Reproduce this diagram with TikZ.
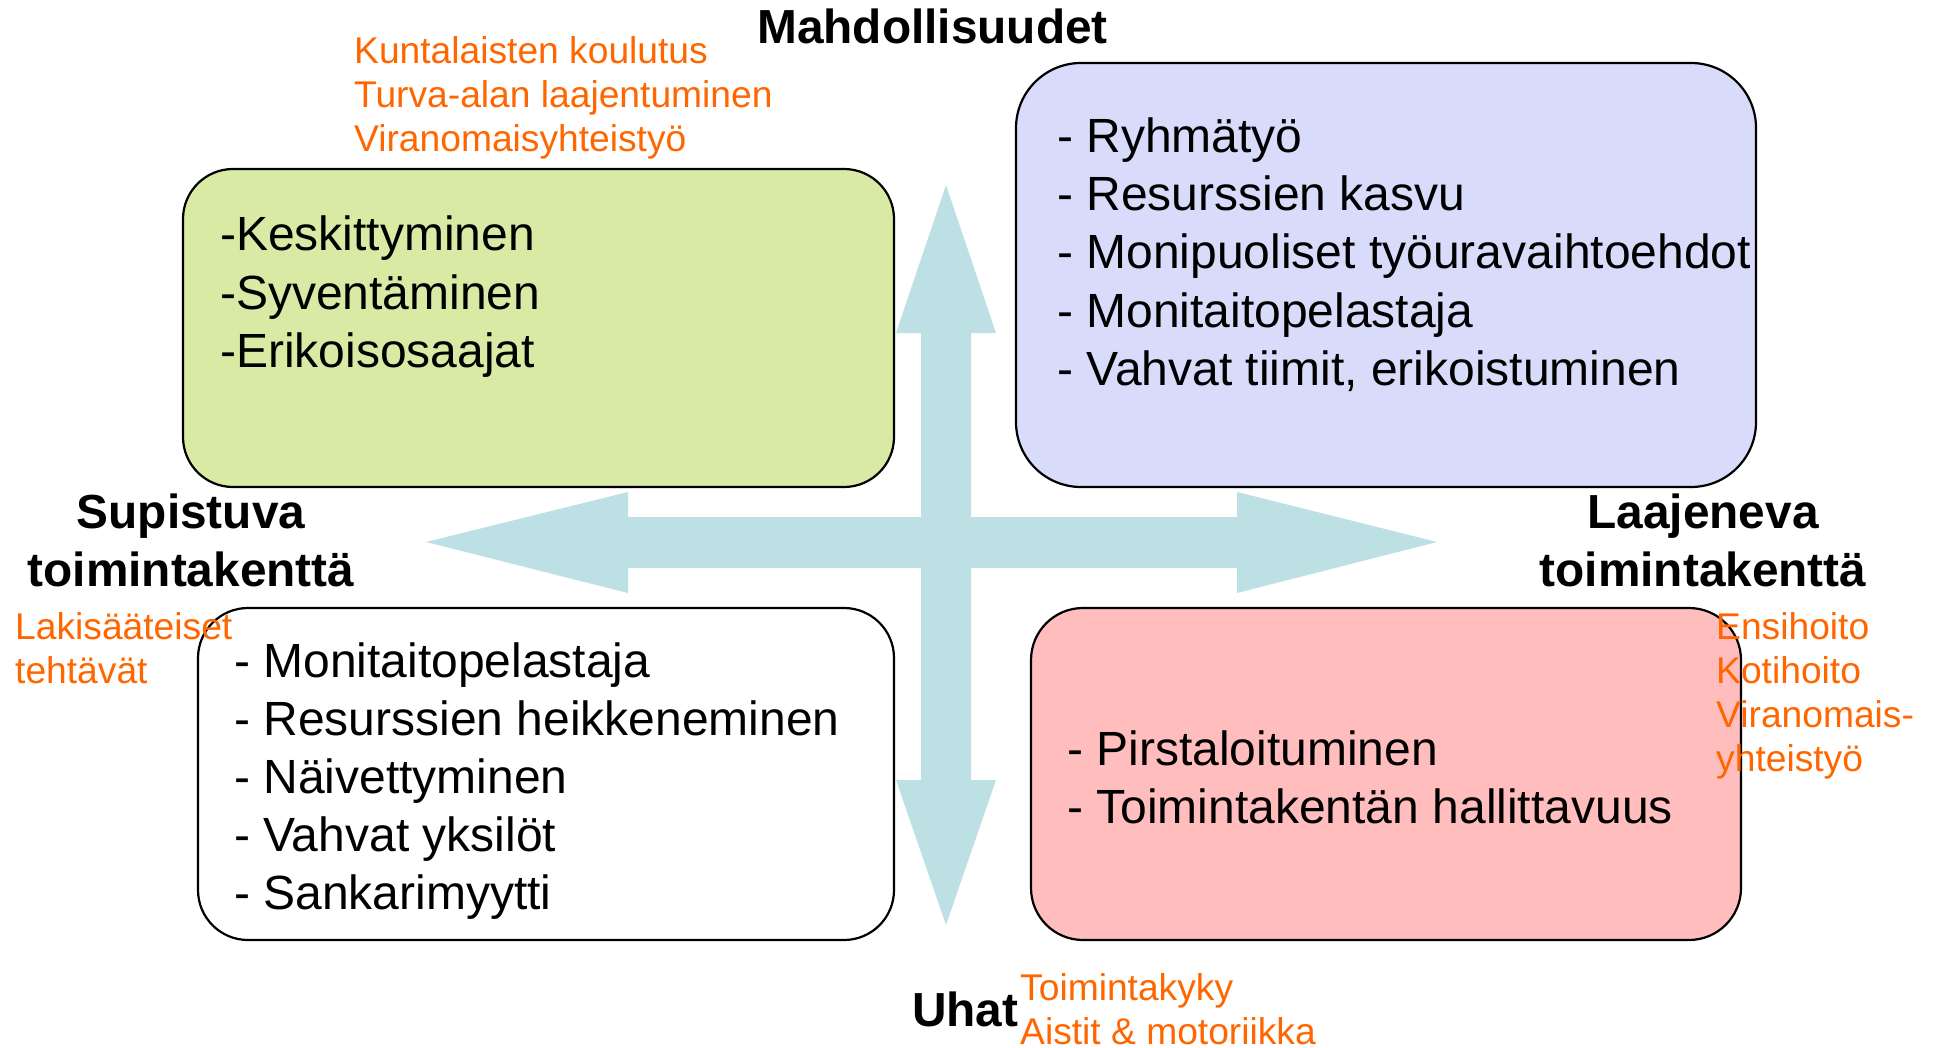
\documentclass[tikz,border=0pt]{standalone}
\usepackage{fontspec}
\setmainfont{Liberation Sans}
\definecolor{arrowc}{HTML}{BCE0E4}
\definecolor{greenc}{HTML}{D9EAA5}
\definecolor{bluec}{HTML}{D9DBFB}
\definecolor{pinkc}{HTML}{FFBDBD}
\definecolor{orangec}{HTML}{FF6600}
\tikzset{
  quad/.style={draw=black, line width=2.2pt, inner sep=0pt},
  item/.style={anchor=base west, inner sep=0pt, font=\fontsize{48}{58}\selectfont},
  head/.style={anchor=base west, inner sep=0pt, font=\fontsize{47.8}{58}\selectfont\bfseries},
  headc/.style={anchor=base, inner sep=0pt, font=\fontsize{47.8}{58}\selectfont\bfseries},
  note/.style={anchor=base west, inner sep=0pt, text=orangec, font=\fontsize{37.2}{44}\selectfont},
}
\begin{document}
\begin{tikzpicture}[x=1pt,y=-1pt]
\useasboundingbox (0,0) rectangle (1934,1048);
% four-way arrow
\coordinate (c) at (946,542);
\fill[arrowc] (946,185) -- (996,333) -- (971,333) -- (971,517) -- (1237,517) -- (1237,492)
  -- (1437,542) -- (1237,593) -- (1237,568) -- (971,568) -- (971,780) -- (996,780)
  -- (946,925) -- (896,780) -- (921,780) -- (921,568) -- (628,568) -- (628,593)
  -- (426,542) -- (628,492) -- (628,517) -- (921,517) -- (921,333) -- (896,333) -- cycle;
% boxes
\node[quad, fill=greenc, minimum width=711pt, minimum height=318pt, rounded corners=50pt] (green) at (538.5,328) {};
\node[quad, fill=bluec, minimum width=740pt, minimum height=424pt, rounded corners=65pt] (blue) at (1386,275) {};
\node[quad, fill=white, minimum width=696pt, minimum height=332pt, rounded corners=50pt] (white) at (546,774) {};
\node[quad, fill=pinkc, minimum width=710pt, minimum height=332pt, rounded corners=52pt] (pink) at (1386,774) {};
% green text
\node[item] (g1) at (220,251) {-Keskittyminen};
\node[item] (g2) at (220,309) {-Syventäminen};
\node[item] (g3) at (220,367) {-Erikoisosaajat};
% blue text
\node[item] (b1) at (1057,153) {- Ryhmätyö};
\node[item] (b2) at (1057,211) {- Resurssien kasvu};
\node[item] (b3) at (1057,269) {- Monipuoliset työuravaihtoehdot};
\node[item] (b4) at (1057,327) {- Monitaitopelastaja};
\node[item] (b5) at (1057,385) {- Vahvat tiimit, erikoistuminen};
% white text
\node[item] (w1) at (234,677) {- Monitaitopelastaja};
\node[item] (w2) at (234,735) {- Resurssien heikkeneminen};
\node[item] (w3) at (234,793) {- Näivettyminen};
\node[item] (w4) at (234,851) {- Vahvat yksilöt};
\node[item] (w5) at (234,909) {- Sankarimyytti};
% pink text
\node[item] (p1) at (1067,765) {- Pirstaloituminen};
\node[item] (p2) at (1067,823) {- Toimintakentän hallittavuus};
% headings
\node[head] (mahd) at (757,44) {Mahdollisuudet};
\node[headc] (sup1) at (191,528) {Supistuva};
\node[headc] (sup2) at (191,586) {toimintakenttä};
\node[headc] (laa1) at (1703,528) {Laajeneva};
\node[headc] (laa2) at (1703,586) {toimintakenttä};
\node[head] (uhat) at (912,1026) {Uhat};
% orange notes
\node[note] (o1) at (354,64) {Kuntalaisten koulutus};
\node[note] (o2) at (354,108) {Turva-alan laajentuminen};
\node[note] (o3) at (354,152) {Viranomaisyhteistyö};
\node[note] (l1) at (15,639) {Lakisääteiset};
\node[note] (l2) at (15,683) {tehtävät};
\node[note] (r1) at (1716,639) {Ensihoito};
\node[note] (r2) at (1716,683) {Kotihoito};
\node[note] (r3) at (1716,727) {Viranomais-};
\node[note] (r4) at (1716,771) {yhteistyö};
\node[note] (u1) at (1020,1000) {Toimintakyky};
\node[note] (u2) at (1020,1044) {Aistit \& motoriikka};
\end{tikzpicture}
\end{document}
